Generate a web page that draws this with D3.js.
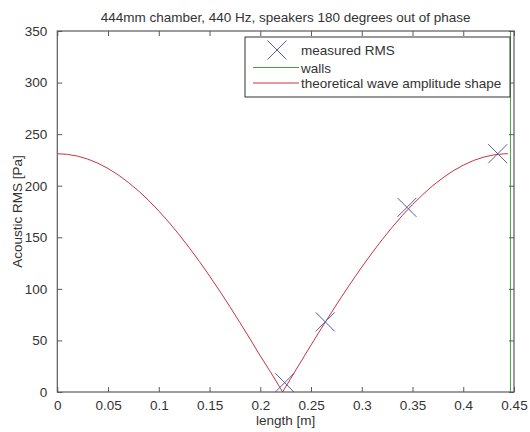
<!DOCTYPE html>
<html>
<head>
<meta charset="utf-8">
<script src="https://cdn.jsdelivr.net/npm/d3@7"></script>
<style>
  body { margin: 0; background: #fff; }
  svg text { font-family: "Liberation Sans", Arial, sans-serif; fill: #333; }
</style>
</head>
<body>
<svg id="chart"></svg>
<script>
// values
const curveX = [0, 0.01, 0.02, 0.03, 0.04, 0.05, 0.06, 0.07, 0.08, 0.09, 0.10, 0.11, 0.12, 0.13, 0.14,
  0.15, 0.16, 0.17, 0.18, 0.19, 0.20, 0.21, 0.22, 0.222, 0.23, 0.24, 0.25, 0.26, 0.27, 0.28, 0.29,
  0.30, 0.31, 0.32, 0.33, 0.34, 0.35, 0.36, 0.37, 0.38, 0.39, 0.40, 0.41, 0.42, 0.43, 0.44, 0.444];
const curveY = [231, 230.4, 228.7, 225.8, 221.8, 216.7, 210.5, 203.2, 195.0, 185.7, 175.5, 164.5, 152.6, 139.9, 126.6,
  112.5, 97.9, 82.8, 67.2, 51.3, 35.0, 19.6, 3.3, 0, 13.1, 29.3, 45.5, 61.4, 76.9, 92.2, 106.9,
  121.1, 134.7, 147.6, 159.8, 171.2, 181.7, 191.3, 200.1, 207.7, 214.4, 219.9, 224.4, 227.7, 229.9, 230.9, 231];
const measuredX = [0.224, 0.264, 0.3445, 0.434];
const measuredY = [9, 68, 179, 231];
const walls = [0.4465];
const xTicks = [0, 0.05, 0.1, 0.15, 0.2, 0.25, 0.3, 0.35, 0.4, 0.45];
const yTicks = [0, 50, 100, 150, 200, 250, 300, 350];
const legendLabels = ["measured RMS", "walls", "theoretical wave amplitude shape"];

const W = 530, H = 432;
const margin = {top: 31, right: 16, bottom: 40, left: 57.3};
const width = W - margin.left - margin.right,
  height = H - margin.top - margin.bottom;
const axisColor = "#5a5a5a";
const fs = "13.5px";
const red = "#c8343f", green = "#44a044", blue = "#5a5aa8";

const svg = d3.select("#chart").attr("width", W).attr("height", H);
const g = svg.append("g").attr("transform", `translate(${margin.left},${margin.top})`);

const x = d3.scaleLinear().domain([0, 0.45]).range([0, width]);
const y = d3.scaleLinear().domain([0, 350]).range([height, 0]);

// walls
g.selectAll(".wall").data(walls).enter().append("line")
  .attr("class", "wall")
  .attr("x1", d => x(d)).attr("x2", d => x(d))
  .attr("y1", y(0)).attr("y2", y(350))
  .attr("stroke", green).attr("stroke-width", 1);

// theoretical curve
const line = d3.line().x(d => x(d[0])).y(d => y(d[1]));
g.append("path")
  .datum(d3.zip(curveX, curveY))
  .attr("d", line)
  .attr("fill", "none").attr("stroke", red).attr("stroke-width", 1);

// measured points as X markers
const m = 9.5;
const cross = `M${-m},${-m}L${m},${m}M${-m},${m}L${m},${-m}`;
g.selectAll(".pt").data(d3.zip(measuredX, measuredY)).enter().append("path")
  .attr("class", "pt")
  .attr("transform", d => `translate(${x(d[0])},${y(d[1])})`)
  .attr("d", cross)
  .attr("fill", "none").attr("stroke", blue).attr("stroke-width", 1);

// axes box with inward ticks
const styleAxis = sel => {
  sel.select(".domain").remove();
  sel.selectAll(".tick line").attr("stroke", axisColor);
  sel.selectAll(".tick text").style("font-size", fs).attr("fill", "#333");
};
g.append("g").attr("transform", `translate(0,${height})`)
  .call(d3.axisBottom(x).tickValues(xTicks).tickSizeInner(-5).tickPadding(8).tickFormat(d => d3.format("")(d)))
  .call(styleAxis);
g.append("g")
  .call(d3.axisTop(x).tickValues(xTicks).tickSizeInner(-5).tickFormat(""))
  .call(styleAxis);
g.append("g")
  .call(d3.axisLeft(y).tickValues(yTicks).tickSizeInner(-5).tickPadding(10))
  .call(styleAxis);
g.append("g").attr("transform", `translate(${width},0)`)
  .call(d3.axisRight(y).tickValues(yTicks).tickSizeInner(-5).tickFormat(""))
  .call(styleAxis);
g.append("rect")
  .attr("width", width).attr("height", height)
  .attr("fill", "none").attr("stroke", axisColor).attr("stroke-width", 1.2);

// titles
svg.append("text")
  .attr("x", margin.left + width / 2).attr("y", 21.5)
  .attr("text-anchor", "middle").style("font-size", fs)
  .text("444mm chamber, 440 Hz, speakers 180 degrees out of phase");
svg.append("text")
  .attr("x", margin.left + width / 2).attr("y", 425)
  .attr("text-anchor", "middle").style("font-size", fs)
  .text("length [m]");
svg.append("text")
  .attr("transform", `translate(22,${margin.top + height / 2}) rotate(-90)`)
  .attr("text-anchor", "middle").style("font-size", fs)
  .text("Acoustic RMS [Pa]");

// legend
const leg = svg.append("g").attr("transform", "translate(245,37)");
leg.append("rect")
  .attr("width", 265).attr("height", 60)
  .attr("fill", "#fff").attr("stroke", "#333").attr("stroke-width", 1);
const rowY = [13, 30.5, 46];
leg.append("path")
  .attr("transform", `translate(32,${rowY[0]})`)
  .attr("d", cross)
  .attr("fill", "none").attr("stroke", blue);
leg.append("line").attr("x1", 8).attr("x2", 54).attr("y1", rowY[1]).attr("y2", rowY[1])
  .attr("stroke", green);
leg.append("line").attr("x1", 8).attr("x2", 54).attr("y1", rowY[2]).attr("y2", rowY[2])
  .attr("stroke", red);
leg.selectAll(".lt").data(legendLabels).enter().append("text")
  .attr("class", "lt")
  .attr("x", 56).attr("y", (d, i) => rowY[i] + 5)
  .style("font-size", fs)
  .text(d => d);
</script>
</body>
</html>
